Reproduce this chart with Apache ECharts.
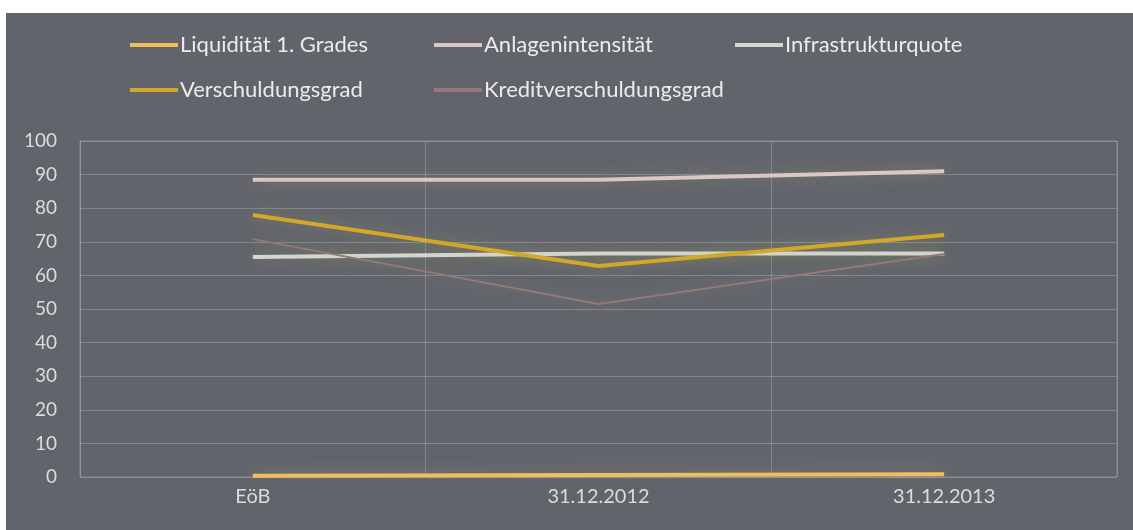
<!DOCTYPE html>
<html>
<head>
<meta charset="utf-8">
<script src="https://cdn.jsdelivr.net/npm/echarts@6/dist/echarts.min.js"></script>
<style>
  html, body { margin: 0; padding: 0; background: #ffffff; }
  #chart { position: absolute; left: 6px; top: 13px; width: 1127px; height: 517px; background: #62646c; }
</style>
</head>
<body>
<div id="chart"></div>
<script>
const categories = ["EöB", "31.12.2012", "31.12.2013"];
const liquiditaet = [0.4, 0.6, 0.8];
const anlagenintensitaet = [88.5, 88.5, 91];
const infrastrukturquote = [65.5, 66.5, 66.5];
const verschuldungsgrad = [78, 62.8, 72];
const kreditverschuldungsgrad = [70.8, 51.5, 66.4];
const yTicks = { min: 0, max: 100, interval: 10 };

const chart = echarts.init(document.getElementById("chart"));

const glow = "rgba(175, 185, 90, 0.4)";
const makeLine = (name, data, color, width) => ({
  name,
  type: "line",
  data,
  symbol: "none",
  lineStyle: { color, width, shadowColor: glow, shadowBlur: 16 },
  itemStyle: { color },
});

// legend columns sit at fixed x positions, two rows
const legendBase = {
  orient: "vertical",
  top: 21,
  padding: 0,
  itemGap: 23,
  itemWidth: 48,
  itemHeight: 4,
  icon: "rect",
  textStyle: { color: "#ececec", fontSize: 22, fontFamily: "Lato", padding: [0, 0, 0, -3] },
};

const option = {
  animation: false,
  legend: [
    { ...legendBase, left: 124, data: ["Liquidität 1. Grades", "Verschuldungsgrad"] },
    { ...legendBase, left: 428, data: ["Anlagenintensität", "Kreditverschuldungsgrad"] },
    { ...legendBase, left: 729, data: ["Infrastrukturquote"] },
  ],
  grid: {
    left: 74, right: 16, top: 128, bottom: 53,
    show: true, borderColor: "rgba(210, 210, 220, 0.3)", borderWidth: 1,
  },
  xAxis: {
    type: "category",
    data: categories,
    boundaryGap: true,
    axisLine: { show: false },
    axisTick: { show: false },
    axisLabel: { color: "#dcdcdc", fontSize: 20, fontFamily: "Lato", margin: 10 },
    splitLine: { show: true, lineStyle: { color: "rgba(210, 210, 220, 0.3)" } },
  },
  yAxis: {
    type: "value",
    ...yTicks,
    axisLine: { show: false },
    axisTick: { show: false },
    axisLabel: { color: "#dcdcdc", fontSize: 19, fontFamily: "Lato", margin: 23 },
    splitLine: { lineStyle: { color: "rgba(210, 210, 220, 0.3)" } },
  },
  series: [
    makeLine("Liquidität 1. Grades", liquiditaet, "#f0bf5c", 4),
    makeLine("Anlagenintensität", anlagenintensitaet, "#dcc6c8", 4),
    makeLine("Infrastrukturquote", infrastrukturquote, "#d6d6d4", 4),
    makeLine("Verschuldungsgrad", verschuldungsgrad, "#d2a829", 4),
    makeLine("Kreditverschuldungsgrad", kreditverschuldungsgrad, "#94787a", 2),
  ],
};

chart.setOption(option);
</script>
</body>
</html>
